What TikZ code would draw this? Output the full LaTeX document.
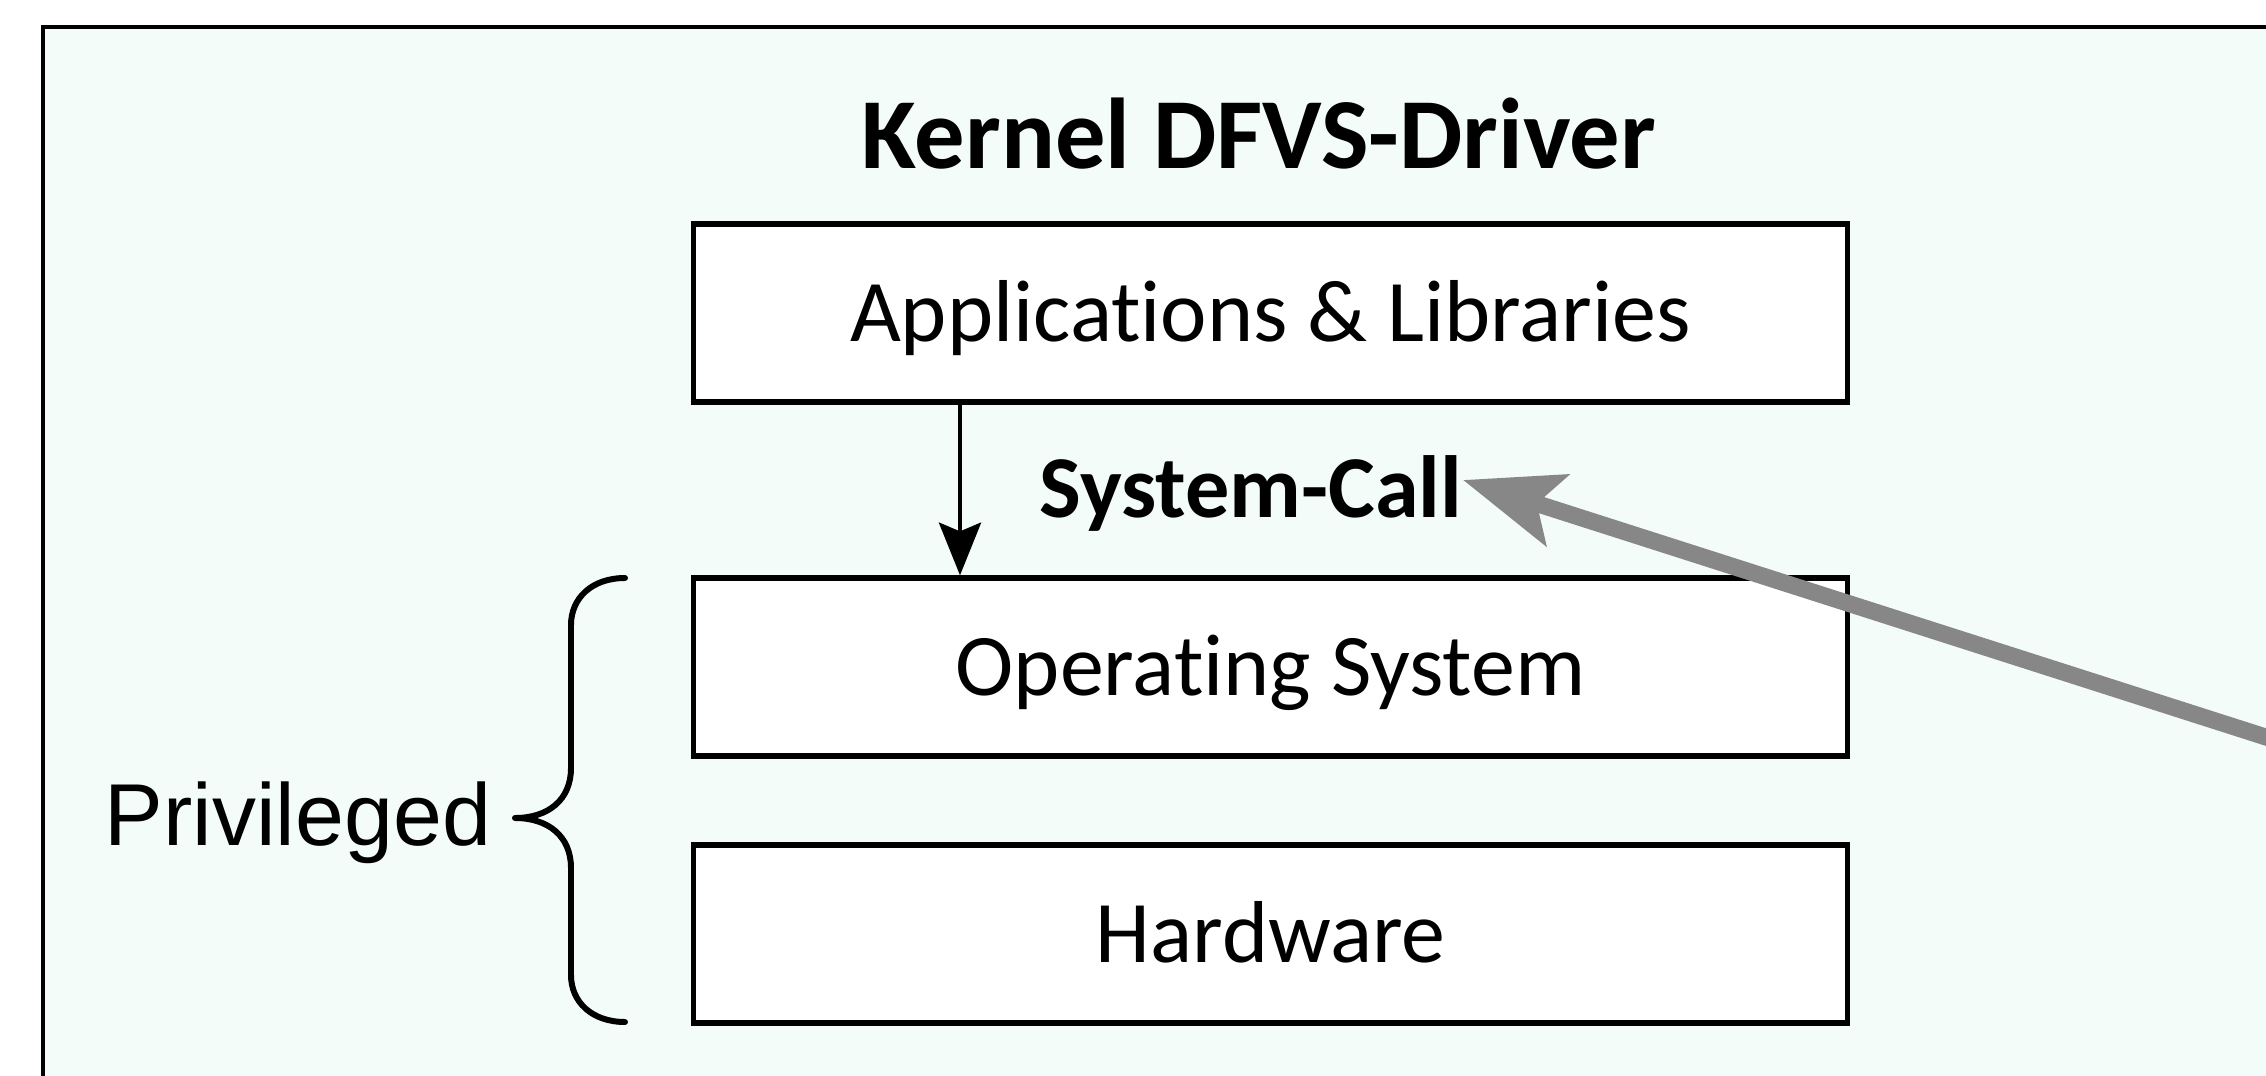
\documentclass[tikz,border=0pt]{standalone}
\usepackage{fontspec}
\newfontfamily\carl[Ligatures={NoCommon}]{Carlito}
\newfontfamily\arialf{Liberation Sans}
\usetikzlibrary{arrows.meta}
\definecolor{bgmint}{RGB}{243,252,248}
\definecolor{arrowgray}{RGB}{135,135,135}
\tikzset{
  layer/.style={draw, line width=1.5pt, fill=white, minimum width=11.53cm, minimum height=1.78cm,
    inner sep=0pt, font=\carl\fontsize{25}{29}\selectfont, text height=16.1pt, text depth=0pt},
  plainlbl/.style={inner sep=0pt, anchor=base},
}
\begin{document}
\begin{tikzpicture}[x=0.01cm, y=-0.01cm]
\clip (0,0) rectangle (2266,1076);
\fill[white] (0,0) rectangle (2266,1076);
% frame
\draw[line width=0.9pt, fill=bgmint] (43,27) rectangle (2400,1200);
% title
\node[plainlbl, font=\carl\bfseries\fontsize{28.6}{32}\selectfont] (title) at (1259,169) {Kernel DFVS-Driver};
% layers
\node[layer] (app) at (1270.5,313) {Applications \& Libraries};
\node[layer] (os) at (1270.5,667) {Operating System};
\node[layer] (hw) at (1270.5,934) {Hardware};
% system call label
\node[plainlbl, font=\carl\bfseries\fontsize{25.1}{29}\selectfont] (syscall) at (1251,517) {System-Call};
% privileged label
\node[plainlbl, font=\arialf\fontsize{25}{29}\selectfont] (priv) at (298,845) {Privileged};
% black arrow
\coordinate (ax) at (960,0);
\draw[line width=1pt, -{Stealth[length=15pt, width=12pt, inset=2.5pt]}] (app.south -| ax) -- (os.north -| ax);
% brace
\coordinate (btop) at (625,578);
\coordinate (btip) at (515,818);
\coordinate (bbot) at (625,1022);
\draw[line width=1.7pt, line cap=round, line join=round]
  (btop) .. controls (592,578) and (571,598) .. (571,625) -- (571,768)
  .. controls (571,800) and (548,818) .. (btip)
  .. controls (548,818) and (571,836) .. (571,868) -- (571,975)
  .. controls (571,1002) and (592,1022) .. (bbot);
% gray arrow
\coordinate (gtail) at (2400,780);
\coordinate (gtip) at (1463,480);
\draw[line width=4.8pt, draw=arrowgray, fill=arrowgray, -{Stealth[length=28pt, width=21pt, inset=6pt]}] (gtail) -- (gtip);
\end{tikzpicture}
\end{document}
